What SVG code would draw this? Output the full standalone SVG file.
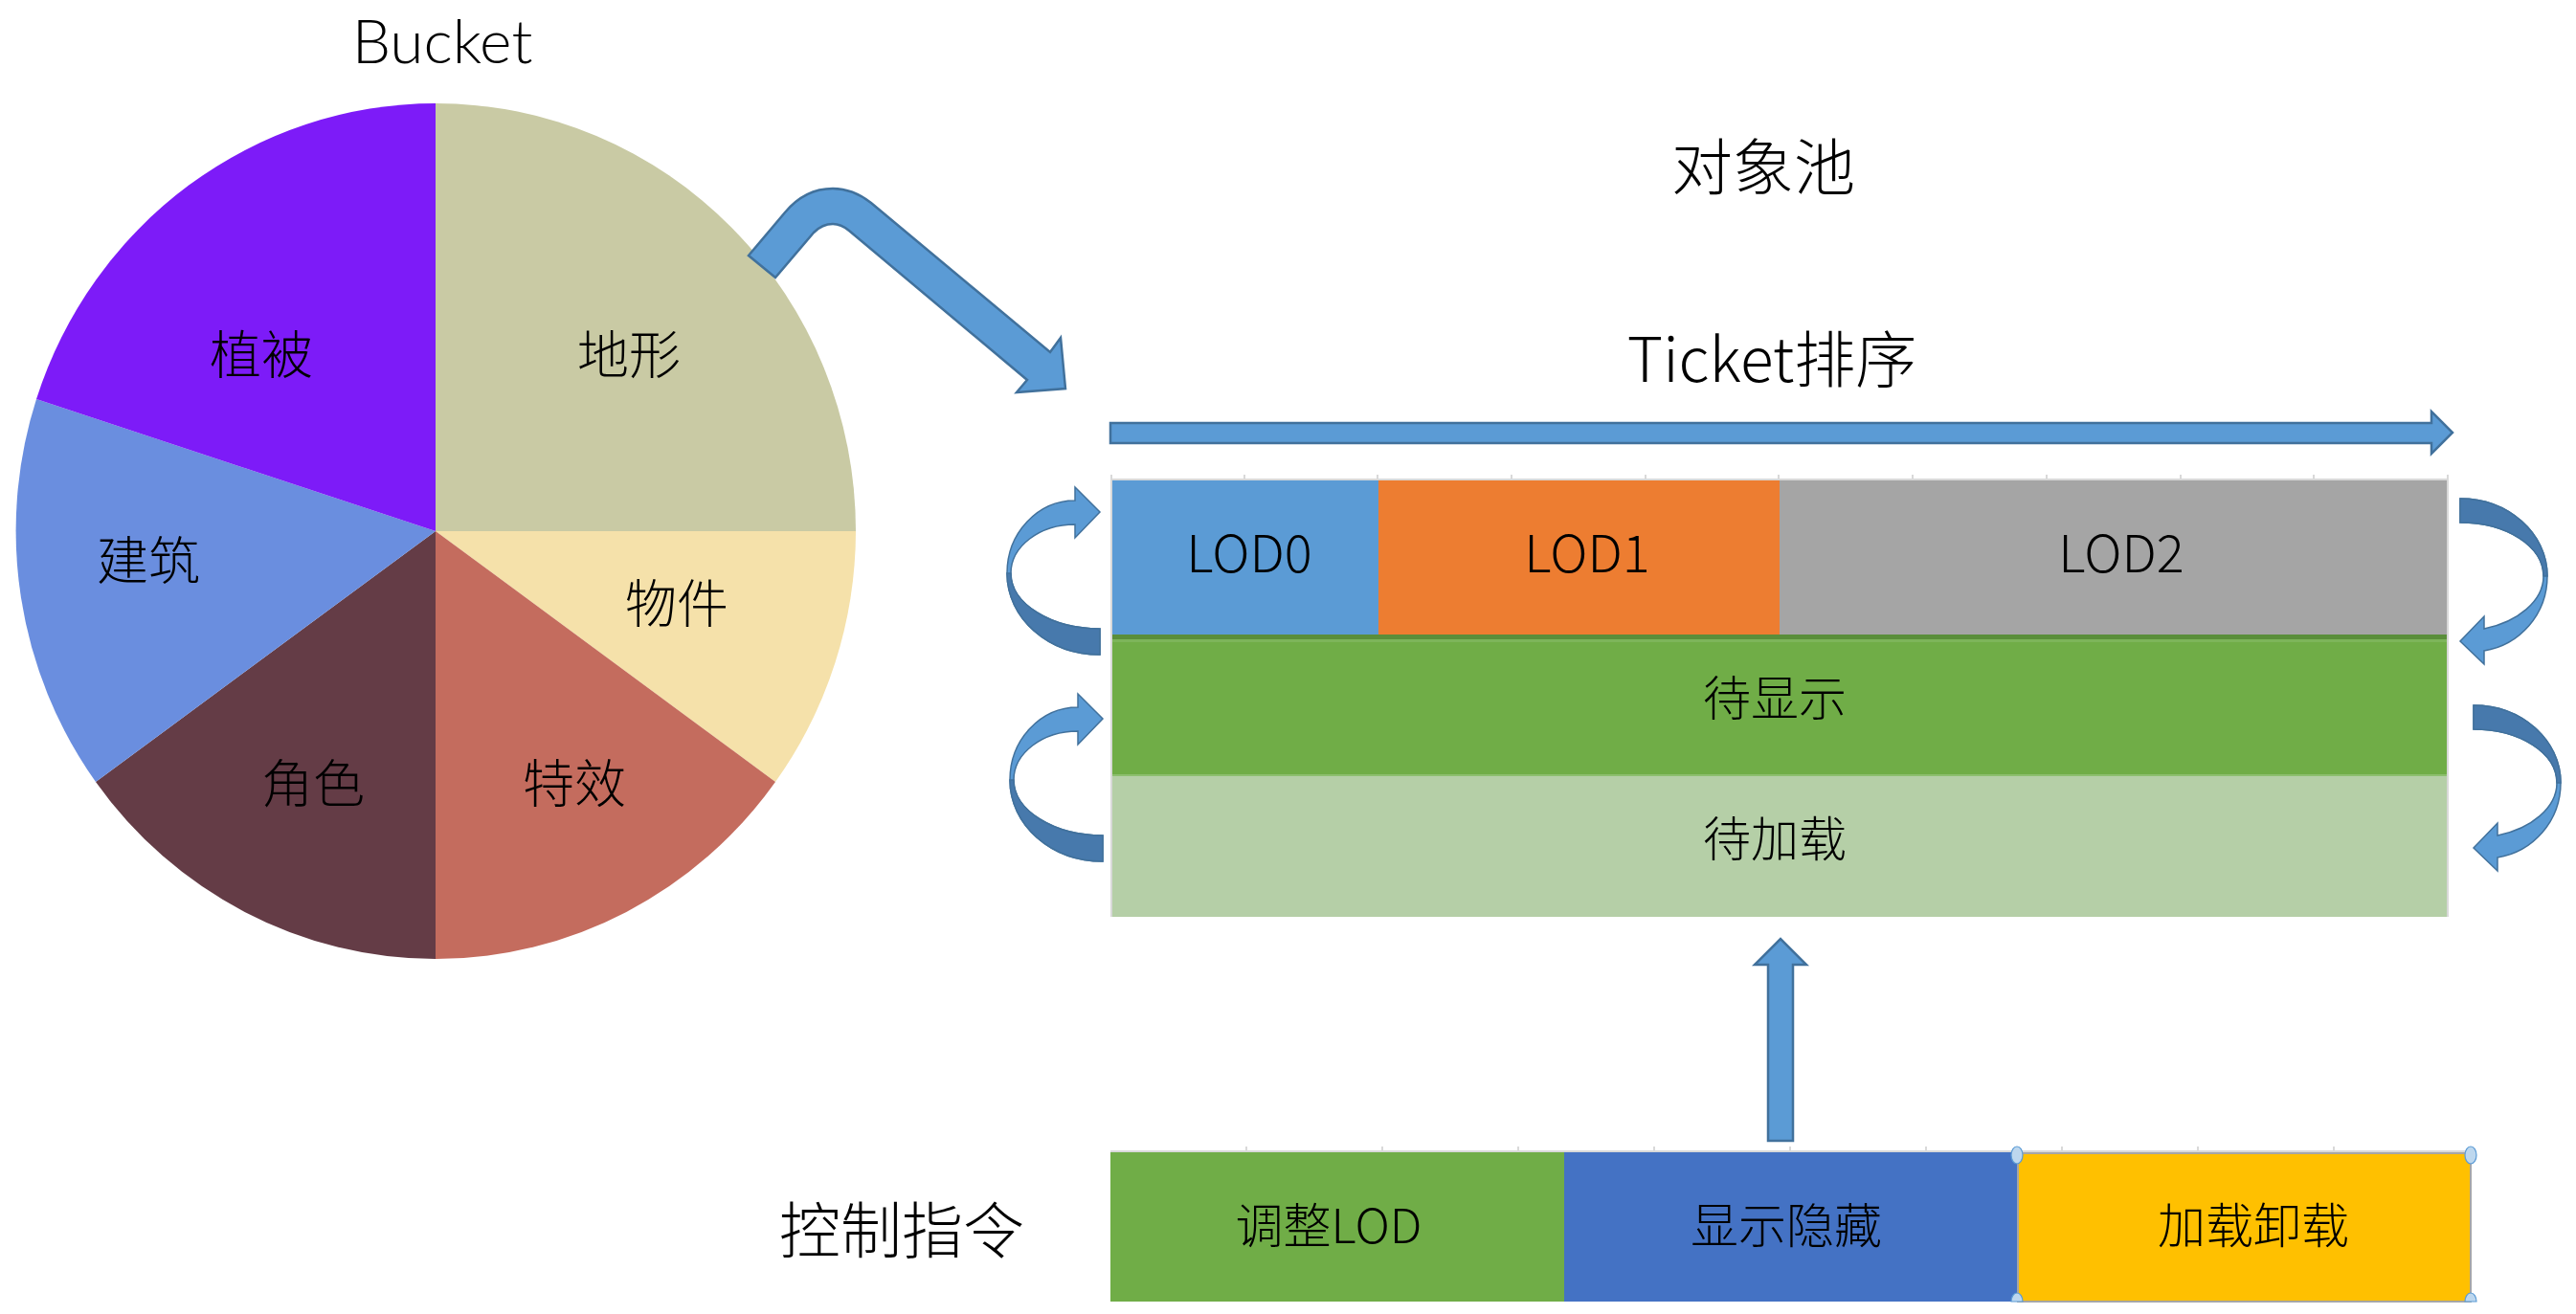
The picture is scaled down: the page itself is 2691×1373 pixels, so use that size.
<svg xmlns="http://www.w3.org/2000/svg" xmlns:xlink="http://www.w3.org/1999/xlink" width="2691" height="1373" viewBox="0 0 2691 1373">
<style>
.t{font-family:"Noto Sans CJK SC","Liberation Sans",sans-serif;font-weight:300;fill:#000;text-anchor:middle}
.lat{font-family:Lato,"Liberation Sans",sans-serif;font-weight:300}
.big{font-size:64px}
.mid{font-size:54px}
.sm{font-size:50px}
.arr{fill:#5B9BD5;stroke:#41719C;stroke-width:2.5;stroke-linejoin:miter}
.back{fill:#4779AC;stroke:#41719C;stroke-width:1.5}
.front{fill:#5B9BD5;stroke:#41719C;stroke-width:1.5}
.grid{stroke:#D9D9D9;stroke-width:2;fill:none}
.handle{fill:#BDD7EE;stroke:#5B9BD5;stroke-width:1.2}
</style>
<defs>
<g id="loopL">
<path class="front" d="M1149 684 C1095 684 1052 646 1052 599 C1052 557 1084 523 1123 523 L1123 509 L1149 535 L1123 562 L1123 548 C1086 548 1056 571 1056 599 C1056 631 1098 657 1149 657 Z"/>
<path class="back" d="M1149 684 C1095 684 1052 646 1052 599 L1056 599 C1056 631 1098 657 1149 657 Z"/>
</g>
<g id="loopR">
<path class="front" d="M2570 521 C2620 521 2661 557 2661 602 C2661 642 2632 674 2595 680 L2595 694 L2570 670 L2595 644 L2595 657 C2630 650 2657 628 2657 602 C2657 571 2619 546 2570 546 Z"/>
<path class="back" d="M2570 521 C2620 521 2661 557 2661 602 L2657 602 C2657 571 2619 546 2570 546 Z"/>
</g>
</defs>
<rect width="2691" height="1373" fill="#fff"/>

<text id="title-bucket" class="t lat big" x="462" y="66">Bucket</text>

<g id="slice-terrain"><path d="M455 555 L455 108 A439 447 0 0 1 894 555 Z" fill="#C9CAA4"/><text class="t mid" x="657" y="391">地形</text></g>
<g id="slice-object"><path d="M455 555 L894 555 A439 447 0 0 1 810 817 Z" fill="#F5E1AA"/><text class="t mid" x="707" y="651">物件</text></g>
<g id="slice-effect"><path d="M455 555 L810 817 A439 447 0 0 1 455 1002 Z" fill="#C46C5E"/><text class="t mid" x="600" y="839">特效</text></g>
<g id="slice-role"><path d="M455 555 L455 1002 A439 447 0 0 1 100 817 Z" fill="#643C46"/><text class="t mid" x="327" y="839">角色</text></g>
<g id="slice-building"><path d="M455 555 L100 817 A439 447 0 0 1 38 417 Z" fill="#6A8EDF"/><text class="t mid" x="155" y="606">建筑</text></g>
<g id="slice-vegetation"><path d="M455 555 L38 417 A439 447 0 0 1 455 108 Z" fill="#7D1BF8"/><text class="t mid" x="273" y="391">植被</text></g>

<text id="title-pool" class="t big" x="1842" y="198">对象池</text>
<text id="title-ticket" class="t big" x="1851" y="399">Ticket排序</text>

<g id="pool-grid">
<path class="grid" d="M1160 501 H2557 M1161 496 V958 M2557 496 V958 M1300 496 V502 M1439 496 V502 M1579 496 V502 M1719 496 V502 M1858 496 V502 M1998 496 V502 M2138 496 V502 M2278 496 V502 M2417 496 V502"/>
</g>
<g id="lod0"><rect x="1162" y="502" width="278" height="161" fill="#5B9BD5"/><text class="t mid" x="1305" y="598">LOD0</text></g>
<g id="lod1"><rect x="1440" y="502" width="419" height="161" fill="#ED7D31"/><text class="t mid" x="1658" y="598">LOD1</text></g>
<g id="lod2"><rect x="1859" y="502" width="697" height="161" fill="#A5A5A5"/><text class="t mid" x="2216" y="598">LOD2</text></g>
<g id="row-show">
<rect x="1162" y="663" width="1394" height="147" fill="#70AD47"/>
<rect x="1162" y="663" width="1394" height="5" fill="#5A8E3A"/>
<rect x="1162" y="668" width="1394" height="3" fill="#7DB55A"/>
<text class="t sm" x="1854" y="748">待显示</text>
</g>
<g id="row-load">
<rect x="1162" y="810" width="1394" height="148" fill="#B5CFA7"/>
<rect x="1162" y="809" width="1394" height="2" fill="#8CBF6E"/>
<text class="t sm" x="1854" y="895">待加载</text>
</g>

<text id="title-cmd" class="t big" x="942" y="1309">控制指令</text>
<g id="cmd-grid">
<path class="grid" d="M1160 1203 H2581 M1302 1198 V1204 M1444 1198 V1204 M1586 1198 V1204 M1728 1198 V1204 M1870 1198 V1204 M2012 1198 V1204 M2154 1198 V1204 M2296 1198 V1204 M2438 1198 V1204"/>
</g>
<g id="cmd-lod"><rect x="1160" y="1204" width="474" height="156" fill="#70AD47"/><text class="t sm" x="1388" y="1299">调整LOD</text></g>
<g id="cmd-show"><rect x="1634" y="1204" width="474" height="156" fill="#4472C4"/><text class="t sm" x="1866" y="1299">显示隐藏</text></g>
<g id="cmd-load">
<rect x="2108" y="1205" width="473" height="155" fill="#FFC000" stroke="#A6A6A6" stroke-width="2"/>
<text class="t sm" x="2354" y="1299">加载卸载</text>
<ellipse class="handle" cx="2107" cy="1207" rx="6" ry="9"/>
<ellipse class="handle" cx="2581" cy="1207" rx="6" ry="9"/>
<path class="handle" d="M2101 1360 A6 9 0 0 1 2113 1360 Z"/>
<path class="handle" d="M2575 1360 A6 9 0 0 1 2587 1360 Z"/>
</g>

<g id="connectors">
<path id="arrow-bucket-pool" class="arr" d="M782 267 L820 222 C835 204 852 197 870 197 C884 197 896 201 910 212 L1097 368 L1108 353 L1113 406 L1062 410 L1073 397 L887 241 C881 236 876 234 870 234 C862 234 856 237 850 243 L810 290 Z"/>
<path id="arrow-ticket" class="arr" d="M1160 442 H2540 V430 L2562 452 L2540 474 V463 H1160 Z"/>
<use id="loop-left-1" xlink:href="#loopL"/>
<use id="loop-left-2" xlink:href="#loopL" transform="translate(3,216)"/>
<use id="loop-right-1" xlink:href="#loopR"/>
<use id="loop-right-2" xlink:href="#loopR" transform="translate(14,216)"/>
<path id="arrow-cmd-up" class="arr" d="M1847 1192 V1008 H1833 L1860 981 L1887 1008 H1873 V1192 Z"/>
</g>
</svg>
